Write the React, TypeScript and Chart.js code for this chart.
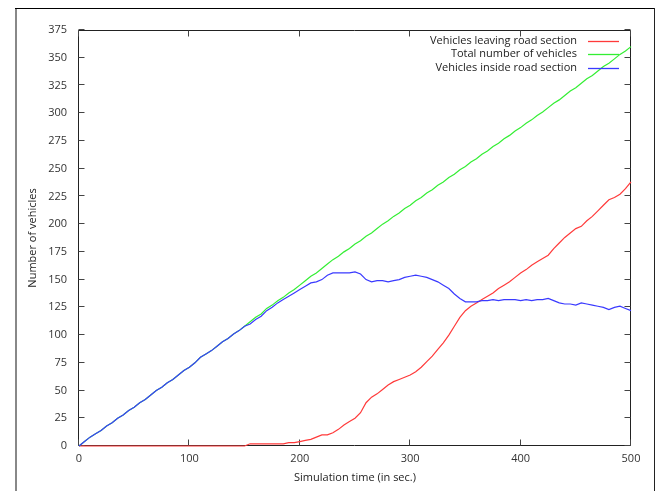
import React, { useEffect, useRef } from "react";
import { Chart, registerables } from "chart.js";

Chart.register(...registerables);

const TIME = [
  0, 5, 10, 15, 20, 25, 30, 35, 40, 45,
  50, 55, 60, 65, 70, 75, 80, 85, 90, 95,
  100, 105, 110, 115, 120, 125, 130, 135, 140, 145,
  150, 155, 160, 165, 170, 175, 180, 185, 190, 195,
  200, 205, 210, 215, 220, 225, 230, 235, 240, 245,
  250, 255, 260, 265, 270, 275, 280, 285, 290, 295,
  300, 305, 310, 315, 320, 325, 330, 335, 340, 345,
  350, 355, 360, 365, 370, 375, 380, 385, 390, 395,
  400, 405, 410, 415, 420, 425, 430, 435, 440, 445,
  450, 455, 460, 465, 470, 475, 480, 485, 490, 495,
  500,
];

const LEAVING = [
  0, 0, 0, 0, 0, 0, 0, 0, 0, 0,
  0, 0, 0, 0, 0, 0, 0, 0, 0, 0,
  0, 0, 0, 0, 0, 0, 0, 0, 0, 0,
  0, 2, 2, 2, 2, 2, 2, 2, 3, 3,
  4, 5, 6, 8, 10, 10, 12, 15, 19, 22,
  25, 30, 39, 44, 47, 51, 55, 58, 60, 62,
  64, 67, 71, 76, 81, 87, 93, 100, 108, 116,
  122, 126, 129, 132, 135, 138, 142, 145, 148, 152,
  156, 159, 163, 166, 169, 172, 178, 183, 188, 192,
  196, 198, 203, 207, 212, 217, 222, 224, 227, 232,
  238,
];

const TOTAL = [
  0, 4, 8, 11, 14, 18, 21, 25, 28, 32,
  35, 39, 42, 46, 50, 53, 57, 60, 64, 68,
  71, 75, 80, 83, 86, 90, 94, 97, 101, 104,
  108, 112, 116, 119, 124, 127, 131, 134, 138, 141,
  145, 149, 153, 156, 160, 164, 168, 171, 175, 178,
  182, 185, 189, 192, 196, 200, 203, 207, 210, 214,
  217, 221, 224, 228, 231, 235, 238, 242, 245, 249,
  252, 256, 259, 263, 266, 270, 273, 277, 280, 284,
  287, 291, 294, 298, 301, 305, 309, 312, 316, 320,
  323, 327, 331, 334, 338, 342, 345, 349, 353, 356,
  360,
];

const INSIDE = [
  0, 4, 8, 11, 14, 18, 21, 25, 28, 32,
  35, 39, 42, 46, 50, 53, 57, 60, 64, 68,
  71, 75, 80, 83, 86, 90, 94, 97, 101, 104,
  108, 110, 114, 117, 122, 125, 129, 132, 135, 138,
  141, 144, 147, 148, 150, 154, 156, 156, 156, 156,
  157, 155, 150, 148, 149, 149, 148, 149, 150, 152,
  153, 154, 153, 152, 150, 148, 145, 142, 137, 133,
  130, 130, 130, 131, 131, 132, 131, 132, 132, 132,
  131, 132, 131, 132, 132, 133, 131, 129, 128, 128,
  127, 129, 128, 127, 126, 125, 123, 125, 126, 124,
  122,
];

const SERIES_LABELS = [
  "Vehicles leaving road section",
  "Total number of vehicles",
  "Vehicles inside road section",
];
const SERIES_COLORS = ["#ff3a3a", "#33ee33", "#3a3aff"];

const X_TITLE = "Simulation time (in sec.)";
const Y_TITLE = "Number of vehicles";

const FONT = "'Open Sans', 'DejaVu Sans', sans-serif";

const framePlugin = {
  id: "gnuframe",
  beforeDraw(chart: any) {
    const ctx = chart.ctx;
    ctx.save();
    ctx.fillStyle = "#ffffff";
    ctx.fillRect(0, 0, chart.width, chart.height);
    ctx.fillStyle = "#888888";
    ctx.fillRect(15, 8, 2, chart.height - 8);
    ctx.fillStyle = "#000000";
    ctx.fillRect(15, 8, 640, 1);
    ctx.fillStyle = "#222222";
    ctx.fillRect(654, 8, 1, chart.height - 8);
    ctx.restore();
  },
  beforeDatasetsDraw(chart: any) {
    const ctx = chart.ctx;
    const { left, right, top, bottom } = chart.chartArea;
    const xs = chart.scales.x;
    const ys = chart.scales.y;
    ctx.save();
    ctx.strokeStyle = "#222222";
    ctx.lineWidth = 1;
    ctx.beginPath();
    const L = Math.round(left) - 0.5;
    const R = Math.round(right) - 0.5;
    const T = Math.round(top) + 0.5;
    const B = Math.round(bottom) - 0.5;
    ctx.rect(L, T, R - L, B - T);
    ctx.stroke();
    ctx.strokeStyle = "#444444";
    ctx.beginPath();
    ys.ticks.forEach((t: any) => {
      const y = Math.round(ys.getPixelForValue(t.value)) - 0.5;
      ctx.moveTo(L, y);
      ctx.lineTo(L + 6, y);
      ctx.moveTo(R, y);
      ctx.lineTo(R - 6, y);
    });
    xs.ticks.forEach((t: any) => {
      const x = Math.round(xs.getPixelForValue(t.value)) - 0.5;
      ctx.moveTo(x, B);
      ctx.lineTo(x, B - 6);
      ctx.moveTo(x, T);
      ctx.lineTo(x, T + 6);
    });
    ctx.stroke();
    ctx.restore();
  },
  afterDatasetsDraw(chart: any) {
    const ctx = chart.ctx;
    ctx.save();
    ctx.font = `11px ${FONT}`;
    ctx.textAlign = "right";
    ctx.textBaseline = "middle";
    chart.data.datasets.forEach((ds: any, i: number) => {
      const y = 41 + i * 13.3;
      ctx.fillStyle = "#222222";
      ctx.fillText(ds.label, 577, y);
      ctx.strokeStyle = ds.borderColor;
      ctx.lineWidth = 1.3;
      ctx.beginPath();
      ctx.moveTo(588, Math.round(y) + 0.5);
      ctx.lineTo(619, Math.round(y) + 0.5);
      ctx.stroke();
    });
    ctx.restore();
  },
};

export default function App() {
  const ref = useRef<HTMLCanvasElement | null>(null);

  useEffect(() => {
    if (!ref.current) return;
    const series = [LEAVING, TOTAL, INSIDE];
    const orders = [2, 1, 0];
    const chart = new Chart(ref.current, {
      type: "line",
      data: {
        datasets: series.map((vals, i) => ({
          label: SERIES_LABELS[i],
          data: TIME.map((t, j) => ({ x: t, y: vals[j] })),
          borderColor: SERIES_COLORS[i],
          backgroundColor: SERIES_COLORS[i],
          borderWidth: 1.2,
          pointRadius: 0,
          tension: 0,
          fill: false,
          order: orders[i],
          clip: 2,
        })),
      },
      options: {
        responsive: false,
        animation: false,
        devicePixelRatio: 1,
        layout: { padding: { left: 0, top: 30, right: 30, bottom: 0 } },
        plugins: {
          legend: { display: false },
          tooltip: { enabled: false },
        },
        scales: {
          x: {
            type: "linear",
            min: 0,
            max: 500,
            ticks: {
              stepSize: 100,
              padding: 6,
              color: "#333333",
              font: { family: FONT, size: 11 },
              maxRotation: 0,
            },
            grid: { display: false, drawTicks: false },
            border: { display: false },
            title: {
              display: true,
              text: X_TITLE,
              color: "#222222",
              font: { family: FONT, size: 11 },
              padding: { top: 0, bottom: 7 },
            },
            afterFit: (s: any) => {
              s.height = 45;
            },
          },
          y: {
            type: "linear",
            min: 0,
            max: 375,
            ticks: {
              stepSize: 25,
              padding: 12,
              color: "#333333",
              font: { family: FONT, size: 11 },
            },
            grid: { display: false, drawTicks: false },
            border: { display: false },
            title: {
              display: true,
              text: Y_TITLE,
              color: "#222222",
              font: { family: FONT, size: 11 },
              padding: { top: 26, bottom: 0 },
            },
            afterFit: (s: any) => {
              s.width = 79;
            },
          },
        },
      },
      plugins: [framePlugin],
    });
    return () => chart.destroy();
  }, []);

  return (
    <div
      style={{
        position: "fixed",
        left: 0,
        top: 0,
        width: 661,
        height: 491,
        background: "#fff",
      }}
    >
      <canvas ref={ref} width={661} height={491} style={{ display: "block" }} />
    </div>
  );
}
